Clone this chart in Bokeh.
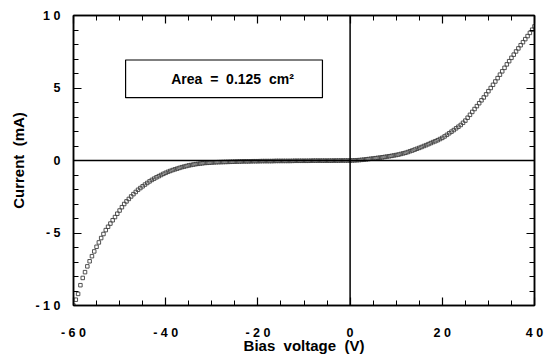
from bokeh.plotting import figure
from bokeh.models import (Range1d, LinearAxis, SingleIntervalTicker, Span,
                          BoxAnnotation, Label, ColumnDataSource)
from bokeh.embed import file_html
from bokeh.resources import INLINE

# ---- data ----
bias_reverse = [-60, -59.5, -59, -58.5, -58, -57.5, -57, -56.5, -56, -55.5, -55,
                -54.5, -54, -53.5, -53, -52.5, -52, -51.5, -51, -50.5, -50, -49.5,
                -49, -48.5, -48, -47.5, -47, -46.5, -46, -45.5, -45, -44.5, -44,
                -43.5, -43, -42.5, -42, -41.5, -41, -40.5, -40, -39.5, -39, -38.5,
                -38, -37.5, -37, -36.5, -36, -35.5, -35, -34.5, -34, -33.5, -33,
                -32.5, -32, -31.5, -31, -30.5, -30, -29.5, -29, -28.5, -28, -27.5,
                -27, -26.5, -26, -25.5, -25, -24.5, -24, -23.5, -23, -22.5, -22,
                -21.5, -21, -20.5, -20, -19.5, -19, -18.5, -18, -17.5, -17, -16.5,
                -16, -15.5, -15, -14.5, -14, -13.5, -13, -12.5, -12, -11.5, -11,
                -10.5, -10, -9.5, -9, -8.5, -8, -7.5, -7, -6.5, -6, -5.5, -5, -4.5,
                -4, -3.5, -3, -2.5, -2, -1.5, -1, -0.5]
current_reverse = [-10.0, -9.6, -9.2, -8.6, -8.1, -7.7, -7.3, -6.95, -6.6, -6.27,
                   -5.95, -5.65, -5.35, -5.07, -4.8, -4.57, -4.35, -4.12, -3.9,
                   -3.67, -3.45, -3.22, -3.0, -2.82, -2.65, -2.48, -2.32, -2.17,
                   -2.02, -1.9, -1.78, -1.66, -1.55, -1.44, -1.34, -1.25, -1.16,
                   -1.08, -1.0, -0.92, -0.85, -0.78, -0.72, -0.66, -0.61, -0.56,
                   -0.51, -0.46, -0.42, -0.38, -0.34, -0.31, -0.28, -0.25, -0.23,
                   -0.21, -0.19, -0.17, -0.16, -0.15, -0.14, -0.13, -0.12, -0.115,
                   -0.11, -0.105, -0.10, -0.095, -0.09, -0.085, -0.08, -0.075,
                   -0.07, -0.065, -0.06, -0.06, -0.06, -0.055, -0.05, -0.05, -0.05,
                   -0.045, -0.04, -0.04, -0.04, -0.04, -0.04, -0.035, -0.03, -0.03,
                   -0.03, -0.03, -0.03, -0.03, -0.03, -0.025, -0.02, -0.02, -0.02,
                   -0.02, -0.02, -0.02, -0.02, -0.015, -0.01, -0.01, -0.01, -0.01,
                   -0.01, -0.01, -0.01, -0.01, -0.01, -0.005, -0.005, -0.005,
                   0.0, 0.0, 0.0, 0.0, 0.0, 0.0]
bias_forward = [0, 0.5, 1, 1.5, 2, 2.5, 3, 3.5, 4, 4.5, 5, 5.5, 6, 6.5, 7, 7.5, 8,
                8.5, 9, 9.5, 10, 10.5, 11, 11.5, 12, 12.5, 13, 13.5, 14, 14.5, 15,
                15.5, 16, 16.5, 17, 17.5, 18, 18.5, 19, 19.5, 20, 20.5, 21, 21.5,
                22, 22.5, 23, 23.5, 24, 24.5, 25, 25.5, 26, 26.5, 27, 27.5, 28,
                28.5, 29, 29.5, 30, 30.5, 31, 31.5, 32, 32.5, 33, 33.5, 34, 34.5,
                35, 35.5, 36, 36.5, 37, 37.5, 38, 38.5, 39, 39.5, 40]
current_forward = [0.0, 0.005, 0.01, 0.02, 0.03, 0.045, 0.06, 0.08, 0.1, 0.12,
                   0.14, 0.16, 0.18, 0.2, 0.22, 0.245, 0.27, 0.295, 0.32, 0.35,
                   0.38, 0.41, 0.45, 0.49, 0.53, 0.58, 0.64, 0.69, 0.75, 0.81,
                   0.87, 0.93, 1.0, 1.06, 1.13, 1.2, 1.27, 1.33, 1.4, 1.48, 1.56,
                   1.66, 1.77, 1.88, 1.99, 2.1, 2.22, 2.33, 2.45, 2.6, 2.75, 2.95,
                   3.15, 3.35, 3.55, 3.75, 3.95, 4.15, 4.35, 4.56, 4.78, 5.0, 5.22,
                   5.45, 5.68, 5.92, 6.15, 6.39, 6.63, 6.85, 7.08, 7.3, 7.52, 7.73,
                   7.95, 8.16, 8.37, 8.58, 8.8, 9.02, 9.25]

x_ticks = [-60, -40, -20, 0, 20, 40]
x_tick_labels = ["- 6 0", "- 4 0", "- 2 0", "0", "2 0", "4 0"]
y_ticks = [-10, -5, 0, 5, 10]
y_tick_labels = ["- 1 0", "- 5", "0", "5", "1 0"]
NB = "\u00a0"
annotation_text = f"Area{NB}{NB}={NB}{NB}0.125{NB}{NB}cm²"
x_title = f"Bias{NB}{NB}voltage{NB}{NB}(V)"
y_title = f"Current{NB}{NB}(mA)"

FONT = "Liberation Sans"

p = figure(width=544, height=356, output_backend="svg", toolbar_location=None,
           x_range=Range1d(-60, 40), y_range=Range1d(-10, 10),
           min_border_left=73, min_border_top=15, min_border_right=10,
           min_border_bottom=48, x_axis_label=x_title, y_axis_label=y_title)
p.grid.visible = False
p.outline_line_color = "black"
p.outline_line_width = 1.5
p.background_fill_color = "white"
p.border_fill_color = "white"


def style_axis(ax, ticker, labels=True):
    ax.ticker = ticker
    ax.axis_line_color = "black"
    ax.axis_line_width = 1.5
    ax.major_tick_in = 8
    ax.major_tick_out = 0
    ax.minor_tick_in = 5
    ax.minor_tick_out = 0
    ax.major_tick_line_width = 1.2
    ax.minor_tick_line_width = 1
    ax.major_tick_line_color = "black"
    ax.minor_tick_line_color = "black"
    if labels:
        ax.major_label_text_font = FONT
        ax.major_label_text_font_style = "bold"
        ax.major_label_text_font_size = "12.5px"
        ax.major_label_text_color = "black"
        ax.axis_label_text_font = FONT
        ax.axis_label_text_font_style = "bold"
        ax.axis_label_text_font_size = "15px"
        ax.axis_label_text_color = "black"
    else:
        ax.major_label_text_font_size = "0px"
        ax.major_label_text_color = None


xt = SingleIntervalTicker(interval=20, num_minor_ticks=4)
yt = SingleIntervalTicker(interval=5, num_minor_ticks=5)

style_axis(p.xaxis[0], xt)
p.xaxis[0].major_label_overrides = {t: l for t, l in zip(x_ticks, x_tick_labels)}
p.xaxis[0].major_label_standoff = 20
p.xaxis[0].axis_label_standoff = -6

style_axis(p.yaxis[0], yt)
p.yaxis[0].major_label_overrides = {t: l for t, l in zip(y_ticks, y_tick_labels)}
p.yaxis[0].major_label_standoff = 13
p.yaxis[0].axis_label_standoff = 5
p.yaxis[0].major_label_orientation = "horizontal"

ra = LinearAxis()
style_axis(ra, SingleIntervalTicker(interval=5, num_minor_ticks=5), labels=False)
p.add_layout(ra, "right")
ta = LinearAxis()
style_axis(ta, SingleIntervalTicker(interval=20, num_minor_ticks=4), labels=False)
p.add_layout(ta, "above")

# zero lines
p.add_layout(Span(location=0, dimension="width", line_color="black", line_width=1.5))
p.add_layout(Span(location=0, dimension="height", line_color="black", line_width=1.5))

# annotation box
p.add_layout(BoxAnnotation(left=-48.7, right=-6.0, bottom=4.33, top=6.93,
                           fill_color="white", fill_alpha=1.0,
                           line_color="black", line_alpha=1.0, line_width=1.2))
p.add_layout(Label(x=-25.5, y=5.63, text=annotation_text, text_align="center",
                   text_baseline="middle", text_font=FONT,
                   text_font_style="bold", text_font_size="14px",
                   text_color="black"))

src_r = ColumnDataSource(dict(x=bias_reverse, y=current_reverse))
src_f = ColumnDataSource(dict(x=bias_forward, y=current_forward))
for s in (src_r, src_f):
    p.scatter("x", "y", source=s, marker="square", size=3.5, fill_color=None,
              line_color="#404040", line_width=0.9)

open("out.html", "w").write(file_html(p, INLINE))
